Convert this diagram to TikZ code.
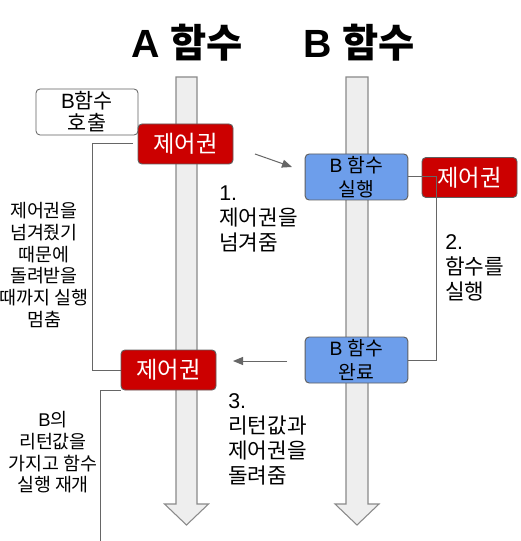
\documentclass[tikz,border=0pt]{standalone}
\usepackage{fontspec}
\setmainfont{Liberation Sans}
\newfontfamily\kr{Noto Sans CJK KR}
\newcommand\K[1]{{\kr #1}}
\usetikzlibrary{arrows.meta}
\definecolor{ctlred}{HTML}{CC0000}
\definecolor{bblue}{HTML}{6D9EEB}
\definecolor{shaftgray}{HTML}{EEEEEE}
\definecolor{shaftedge}{HTML}{8A8A8A}
\definecolor{edgegray}{HTML}{5F5F5F}
\definecolor{linegray}{HTML}{666666}
\begin{document}
\begin{tikzpicture}[x=0.75pt,y=-0.75pt,
  shaftstyle/.style={fill=shaftgray,draw=shaftedge,line width=0.8pt},
  ctlbox/.style={rectangle,rounded corners=3pt,fill=ctlred,draw=edgegray,line width=0.7pt,
    text=white,minimum width=71.25pt,minimum height=30pt,inner sep=0pt,
    font=\kr\fontsize{17.5}{20}\selectfont},
  bluebox/.style={rectangle,rounded corners=3pt,fill=bblue,draw=edgegray,line width=0.7pt,
    minimum width=77pt,minimum height=34.5pt,inner sep=0pt,align=center,
    font=\fontsize{14.5}{17.6}\selectfont},
  callbox/.style={rectangle,rounded corners=3pt,fill=white,draw=edgegray,line width=0.6pt,
    minimum width=76.5pt,minimum height=34.5pt,inner sep=0pt,align=center,
    font=\fontsize{15.5}{16.5}\selectfont},
  rnote/.style={inner sep=0pt,align=left,anchor=west,font=\fontsize{16}{18.75}\selectfont},
  lnote/.style={inner sep=0pt,align=center,font=\fontsize{13.8}{16.3}\selectfont},
  title/.style={inner sep=0pt,font=\bfseries\fontsize{29.5}{32}\selectfont},
  conn/.style={draw=linegray,line width=0.75pt},
  arr/.style={draw=linegray,line width=0.75pt,-{Triangle[length=7.5pt,width=6pt]}}
]
\useasboundingbox (0,0) rectangle (520,541);
\fill[white] (0,0) rectangle (520,541);
% column arrows
\draw[shaftstyle] (176,77) -- (197,77) -- (197,504) -- (208.5,504) -- (186.5,525) -- (164.5,504) -- (176,504) -- cycle;
\draw[shaftstyle] (346,77) -- (368,77) -- (368,504) -- (379,504) -- (357,525) -- (335,504) -- (346,504) -- cycle;
% titles
\node[title] (tA) at (187,43) {A \K{\bfseries 함수}};
\node[title] (tB) at (359,43) {B \K{\bfseries 함수}};
% boxes
\node[callbox] (call) at (87,112) {B\K{함수}\\\K{호출}};
\node[ctlbox] (ctl1) at (185.5,144) {제어권};
\node[bluebox] (run) at (356.5,177) {B \K{함수}\\\K{실행}};
\node[ctlbox] (ctl3) at (469.5,177.5) {제어권};
\node[bluebox] (done) at (356.5,360) {B \K{함수}\\\K{완료}};
\node[ctlbox] (ctl2) at (168.5,370) {제어권};
% connectors
\coordinate (a1s) at (255,154);
\coordinate (a1e) at (292,167);
\draw[arr] (a1s) -- (a1e);
\coordinate (a3s) at (287,361);
\coordinate (a3e) at (233,361);
\draw[arr] (a3s) -- (a3e);
\draw[conn] (ctl1.west) ++(-5,0) -- ++(-40,0) |- (ctl2.west);
\coordinate (endB) at (100,541);
\draw[conn] (ctl2.south west) -| (endB);
\draw[conn] (run.east) -- ++(28,0) |- (done.east);
% notes
\node[rnote] (n1) at (219,218.5) {1.\\\K{제어권을}\\\K{넘겨줌}};
\node[rnote] (n2) at (445,267.5) {2.\\\K{함수를}\\\K{실행}};
\node[rnote] (n3) at (228,439.5) {3.\\\K{리턴값과}\\\K{제어권을}\\\K{돌려줌}};
\node[lnote] (l1) at (44,265) {\K{제어권을}\\\K{넘겨줬기}\\\K{때문에}\\\K{돌려받을}\\\K{때까지 실행}\\\K{멈춤}};
\node[lnote] (l2) at (53,452.5) {B\K{의}\\\K{리턴값을}\\\K{가지고 함수}\\\K{실행 재개}};
\end{tikzpicture}
\end{document}
